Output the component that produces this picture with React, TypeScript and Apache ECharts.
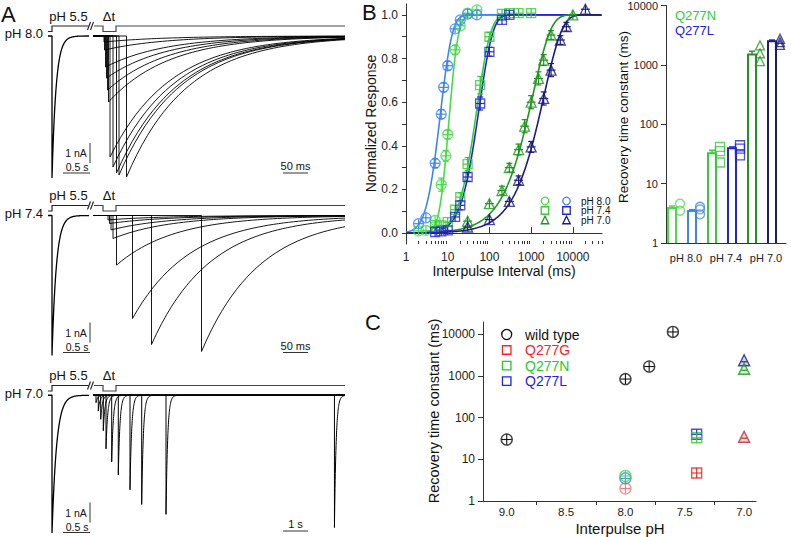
import React, { useEffect, useRef } from "react";
import * as echarts from "echarts";

const FONT = 'Arial, "Liberation Sans", Helvetica, sans-serif';
const lg = Math.log10;

// ---------------- Panel A: current traces (nA, ms) ----------------
const traceRowLabels = ["pH 8.0", "pH 7.4", "pH 7.0"];
const condPeakNA = [7.1, 7.0, 7.0];
const condOnsetMs = [74, 74, 74];
const condDecayMs = [75, 80, 85];
const condWindowMs = 758;
const testWindowMs = [504, 504, 10500];
const testDecayMs = [120, 115, 70];
const testOnsetsMs = [
  [22, 23, 25, 27, 29, 31, 34, 40, 47, 52, 67],
  [30, 33, 36, 40, 47, 79, 117, 217],
  [125, 221, 321, 429, 542, 779, 1054, 1542, 2029, 3042, 10060],
];
const testPeaksNA = [
  [0.3, 0.7, 1.55, 2.1, 2.7, 3.3, 6.05, 6.55, 6.85, 6.95, 7.05],
  [0.22, 0.4, 0.72, 1.15, 2.48, 5.15, 6.45, 6.8],
  [0.375, 0.8, 1.22, 1.8, 2.72, 3.38, 4.05, 4.8, 5.55, 6.05, 6.72],
];
const testScaleLabels = ["50 ms", "50 ms", "1 s"];

// ---------------- Panel B (left): normalized recovery ----------------
const intN80 = [2, 3, 5, 7, 9, 10, 15, 20, 30, 50];
const respN80 = [0.01, 0.012, 0.058, 0.222, 0.354, 0.452, 0.84, 0.95, 1.008, 1.023];
const errN80 = [0.005, 0.005, 0.012, 0.03, 0.025, 0.02, 0.02, 0.015, 0.01, 0.01];
const intL80 = [2, 3, 5, 7, 8, 10, 15, 20, 30, 50];
const respL80 = [0.043, 0.07, 0.32, 0.545, 0.668, 0.767, 0.936, 0.977, 1.004, 1.0];
const errL80 = [0.01, 0.015, 0.02, 0.02, 0.02, 0.02, 0.015, 0.01, 0.01, 0.01];
const intN74 = [5, 7, 10, 15, 20, 30, 60, 100, 200, 300, 500, 1000];
const respN74 = [0.03, 0.035, 0.05, 0.107, 0.165, 0.316, 0.678, 0.9, 1.005, 1.008, 1.008, 1.008];
const errN74 = [0.01, 0.01, 0.01, 0.015, 0.02, 0.03, 0.04, 0.02, 0.01, 0.01, 0.01, 0.01];
const intL74 = [5, 7, 10, 15, 20, 30, 60, 100, 200, 300];
const respL74 = [0.005, 0.008, 0.012, 0.074, 0.127, 0.257, 0.594, 0.831, 0.977, 1.0];
const errL74 = [0.005, 0.005, 0.01, 0.015, 0.02, 0.02, 0.03, 0.02, 0.01, 0.01];
const intN70 = [30, 100, 200, 300, 500, 700, 1000, 1500, 2000, 3000, 10000];
const respN70 = [0.055, 0.135, 0.195, 0.3, 0.383, 0.49, 0.6, 0.709, 0.793, 0.908, 1.0];
const errN70 = [0.01, 0.015, 0.02, 0.02, 0.025, 0.03, 0.03, 0.03, 0.025, 0.02, 0.01];
const intL70 = [30, 100, 300, 500, 1000, 2000, 3000, 5000, 7000, 20000];
const respL70 = [0.028, 0.062, 0.145, 0.242, 0.395, 0.617, 0.747, 0.885, 0.946, 1.026];
const errL70 = [0.005, 0.01, 0.015, 0.02, 0.025, 0.03, 0.03, 0.02, 0.02, 0.01];
// fit parameters: y = (1 - exp(-t/tau))^n
const fitTau = [3.9, 3.4, 32, 36, 1100, 2050];
const fitPow = [10, 4, 2.41, 2.4, 1, 1];
const intervalTickLabels = [1, 10, 100, 1000, 10000];
const intervalMax = 50000;

// ---------------- Panel B (right): recovery time constants ----------------
const phCats = ["pH 8.0", "pH 7.4", "pH 7.0"];
const tauMeanN = [3.9, 32.5, 1500];
const tauErrN = [0.3, 4, 200];
const tauMeanL = [3.45, 39.5, 2500];
const tauErrL = [0.2, 2, 120];
const tauCellsN = [[4.6, 3.5], [41.5, 35.4, 22.7], [2130, 1560, 1160]];
const tauCellsL = [[4.07, 3.68, 3.04], [44.3, 39, 30], [2750, 2420, 2170]];
const tauTickLabels = [1, 10, 100, 1000, 10000];

// ---------------- Panel C: tau vs interpulse pH ----------------
const wtPH = [9.0, 8.0, 7.8, 7.6];
const wtTau = [30, 850, 1700, 11500];
const mutPH = [8.0, 7.4, 7.0];
const gTau = [2.0, 4.7, 35];
const nTau = [4.0, 33, 1500];
const lTau = [3.5, 40, 2400];
const phTickLabels = [7.0, 7.5, 8.0, 8.5, 9.0];
const phMinorTicks = [7.25, 7.75, 8.25, 8.75];

// colours
const greens = ["#44dd44", "#33cc33", "#1e961e"];
const blues = ["#3d85f2", "#2323dc", "#1c1c7c"];
const reds = ["#f07a7a", "#ee2222", "#b52a2a"];
const shapes = ["circle", "rect", "triangle"];

function decayTrace(onset: number, peak: number, tau: number, span: number) {
  const pts: number[][] = [[0, 0], [onset, 0], [onset, -peak]];
  const n = 80;
  for (let k = 1; k <= n; k++) {
    const dt = (k / n) * 7 * tau;
    const t = onset + dt;
    if (t > span) break;
    pts.push([t, -peak * Math.exp(-dt / tau)]);
  }
  pts.push([span, -peak * Math.exp(-(span - onset) / tau)]);
  return pts;
}

function buildOption() {
  const rowBase = [36, 215.5, 395.5];
  const grid: any[] = [];
  const xAxis: any[] = [];
  const yAxis: any[] = [];
  const series: any[] = [];
  const graphic: any[] = [];
  const hidden = (gi: number, min: number, max: number) => ({ type: "value", gridIndex: gi, min, max, show: false });

  for (let r = 0; r < 3; r++) grid.push({ left: 48, top: rowBase[r] - 16, width: 41, height: 160 });
  for (let r = 0; r < 3; r++) grid.push({ left: 93, top: rowBase[r] - 16, width: 252, height: 160 });
  for (let r = 0; r < 3; r++) { xAxis.push(hidden(r, 0, condWindowMs)); yAxis.push(hidden(r, -7.2, 0.8)); }
  for (let r = 0; r < 3; r++) { xAxis.push(hidden(3 + r, 0, testWindowMs[r])); yAxis.push(hidden(3 + r, -7.2, 0.8)); }

  const traceLine = (ai: number, data: number[][], w: number) => ({
    type: "line", xAxisIndex: ai, yAxisIndex: ai, data, showSymbol: false, symbol: "none",
    lineStyle: { color: "#000", width: w }, silent: true, clip: false, z: 2,
  });
  for (let r = 0; r < 3; r++) {
    series.push(traceLine(r, decayTrace(condOnsetMs[r], condPeakNA[r], condDecayMs[r], condWindowMs), 1.3));
    testOnsetsMs[r].forEach((on, k) => {
      series.push(traceLine(3 + r, decayTrace(on, testPeaksNA[r][k], testDecayMs[r], testWindowMs[r]), r === 2 ? 1.0 : 0.9));
    });
  }

  const txt = (text: string, x: number, y: number, size: number, opts: any = {}) => ({
    type: "text", x, y, rotation: opts.rotation || 0, silent: true,
    style: {
      text, fill: opts.color || "#111", font: `${size}px ${FONT}`, fontSize: size, fontFamily: FONT,
      align: opts.align || "center", verticalAlign: opts.valign || "middle",
      textAlign: opts.align || "center", textVerticalAlign: opts.valign || "middle",
    },
  });
  const ln = (x1: number, y1: number, x2: number, y2: number, stroke = "#222", w = 1.1) => ({
    type: "line", silent: true, shape: { x1, y1, x2, y2 }, style: { stroke, lineWidth: w },
  });
  const pl = (points: number[][], stroke = "#222", w = 1.2) => ({
    type: "polyline", silent: true, shape: { points }, style: { stroke, lineWidth: w, fill: "none" },
  });

  // Panel A annotations
  graphic.push(txt("A", 1, 3, 22, { align: "left", valign: "top" }));
  for (let r = 0; r < 3; r++) {
    const yb = rowBase[r];
    graphic.push(txt(traceRowLabels[r], 43, yb - 2.5, 13, { align: "right" }));
    graphic.push(txt("pH 5.5", 68.5, yb - 20, 13));
    graphic.push(txt("\u0394t", 109, yb - 20, 13));
    graphic.push(pl([[48, yb - 4.5], [52, yb - 4.5], [52, yb - 10], [88.5, yb - 10]]));
    graphic.push(pl([[94, yb - 10], [103, yb - 10], [103, yb - 4.5], [116, yb - 4.5], [116, yb - 10], [345, yb - 10]], "#444"));
    graphic.push(ln(87.5, yb - 6, 90.5, yb - 14));
    graphic.push(ln(90.5, yb - 6, 93.5, yb - 14));
    graphic.push(ln(90, yb + 107, 90, yb + 127, "#333", 1));
    graphic.push(ln(63, yb + 137, 90, yb + 137, "#333", 1));
    graphic.push(txt("1 nA", 76, yb + 117, 10.5));
    graphic.push(txt("0.5 s", 77, yb + 131, 10.5));
    const sy = r === 2 ? yb + 135.5 : yb + 137;
    graphic.push(ln(283, sy, 308, sy, "#333", 1));
    graphic.push(txt(testScaleLabels[r], 295.5, sy - 7, 11));
  }

  // ---------- Panel B left ----------
  const axisLineStyle = { lineStyle: { color: "#333", width: 1 } };
  const labelStyle = { color: "#222", fontFamily: FONT, fontSize: 12 };
  grid.push({ left: 406, top: 4, width: 196, height: 240 }); // 6
  const decLogs = intervalTickLabels.map((v) => lg(v));
  const minorLogs: number[] = [];
  for (let k = 0; k < 5; k++) for (let m = 2; m <= 9; m++) { const v = m * Math.pow(10, k); if (v <= intervalMax) minorLogs.push(lg(v)); }
  xAxis.push({
    type: "value", gridIndex: 6, position: "bottom", min: 0, max: lg(intervalMax), axisLine: axisLineStyle, splitLine: { show: false },
    axisTick: { customValues: decLogs, inside: true, length: 6, lineStyle: { color: "#333" } },
    axisLabel: { ...labelStyle, customValues: decLogs, margin: 7, formatter: (v: number) => String(Math.round(Math.pow(10, v))) },
  }); // 6
  xAxis.push({
    type: "value", gridIndex: 6, position: "bottom", offset: 0, min: 0, max: lg(intervalMax), axisLine: { show: false }, splitLine: { show: false },
    axisTick: { customValues: minorLogs, inside: true, length: 3, lineStyle: { color: "#333" } },
    axisLabel: { show: false },
  }); // 7
  const respTicks = [0, 0.1, 0.2, 0.3, 0.4, 0.5, 0.6, 0.7, 0.8, 0.9, 1.0];
  const respLabels = [0, 0.2, 0.4, 0.6, 0.8, 1.0];
  yAxis.push({
    type: "value", gridIndex: 6, min: -0.05, max: 1.05, axisLine: { show: true, ...axisLineStyle }, splitLine: { show: false },
    axisTick: { show: true, customValues: respTicks, length: 4, lineStyle: { color: "#333" } },
    axisLabel: { ...labelStyle, customValues: respLabels, margin: 8, formatter: (v: number) => v.toFixed(1) },
  }); // 6

  const bSets = [
    { xs: intN80, ys: respN80, es: errN80, color: greens[0], sym: "circle" },
    { xs: intL80, ys: respL80, es: errL80, color: blues[0], sym: "circle" },
    { xs: intN74, ys: respN74, es: errN74, color: greens[1], sym: "rect" },
    { xs: intL74, ys: respL74, es: errL74, color: blues[1], sym: "rect" },
    { xs: intN70, ys: respN70, es: errN70, color: greens[2], sym: "triangle" },
    { xs: intL70, ys: respL70, es: errL70, color: blues[2], sym: "triangle" },
  ];
  bSets.forEach((s, k) => {
    const fit: number[][] = [];
    for (let lx = 0; lx <= lg(intervalMax) + 1e-9; lx += 0.01) {
      const t = Math.pow(10, lx);
      fit.push([lx, Math.pow(1 - Math.exp(-t / fitTau[k]), fitPow[k])]);
    }
    series.push({
      type: "line", xAxisIndex: 6, yAxisIndex: 6, data: fit, showSymbol: false, symbol: "none",
      lineStyle: { color: s.color, width: 1.6 }, silent: true, z: 3,
    });
  });
  bSets.forEach((s) => {
    series.push({
      type: "custom", xAxisIndex: 6, yAxisIndex: 6, silent: true, z: 4,
      itemStyle: { color: s.color },
      data: s.xs.map((x, i) => [lg(x), s.ys[i], s.es[i]]),
      renderItem: (params: any, api: any) => {
        const x = api.value(0), y = api.value(1), e = api.value(2);
        const c = api.coord([x, y]);
        const hi = api.coord([x, y + e]);
        const lo = api.coord([x, y - e]);
        const st = { stroke: s.color, lineWidth: 1.2 };
        const kids: any[] = [
          { type: "line", shape: { x1: c[0], y1: Math.min(hi[1], c[1] - 4.5), x2: c[0], y2: Math.max(lo[1], c[1] + 4.5) }, style: st },
          { type: "line", shape: { x1: c[0] - 4.5, y1: c[1], x2: c[0] + 4.5, y2: c[1] }, style: st },
        ];
        if (c[1] - hi[1] > 4) {
          kids.push({ type: "line", shape: { x1: c[0] - 3, y1: hi[1], x2: c[0] + 3, y2: hi[1] }, style: st });
          kids.push({ type: "line", shape: { x1: c[0] - 3, y1: lo[1], x2: c[0] + 3, y2: lo[1] }, style: st });
        }
        return { type: "group", children: kids };
      },
    });
    series.push({
      type: "scatter", xAxisIndex: 6, yAxisIndex: 6, symbol: s.sym, symbolSize: s.sym === "rect" ? 9 : 10, silent: true, z: 5,
      itemStyle: { color: "rgba(0,0,0,0)", borderColor: s.color, borderWidth: 1.3 },
      data: s.xs.map((x, i) => [lg(x), s.ys[i]]),
    });
  });
  graphic.push(txt("B", 362, 1, 22, { align: "left", valign: "top" }));
  graphic.push(txt("Normalized Response", 370.5, 123.5, 14, { rotation: Math.PI / 2 }));
  graphic.push(txt("Interpulse Interval (ms)", 504, 271, 14));
  const legRows = [201, 210.5, 220];
  const symGraphic = (sym: string, cx: number, cy: number, color: string, size: number, fill = "none") => {
    const st = { stroke: color, lineWidth: 1.3, fill };
    if (sym === "circle") return { type: "circle", silent: true, shape: { cx, cy, r: size / 2 }, style: st };
    if (sym === "rect") return { type: "rect", silent: true, shape: { x: cx - size / 2, y: cy - size / 2, width: size, height: size }, style: st };
    return { type: "polygon", silent: true, shape: { points: [[cx, cy - size / 2], [cx + size / 2, cy + size / 2], [cx - size / 2, cy + size / 2]] }, style: st };
  };
  legRows.forEach((y, i) => {
    graphic.push(symGraphic(shapes[i], 545, y, greens[i], 7.5));
    graphic.push(symGraphic(shapes[i], 566.5, y, blues[i], 7.5));
    graphic.push(txt(phCats[i], 581, y, 10, { align: "left" }));
  });

  // ---------- Panel B right ----------
  grid.push({ left: 666, top: 5, width: 120, height: 238 }); // 7
  const tauLogs = tauTickLabels.map((v) => lg(v));
  xAxis.push({
    type: "category", gridIndex: 7, data: phCats, axisLine: axisLineStyle, axisTick: { show: false },
    axisLabel: { ...labelStyle, fontSize: 11, interval: 0, margin: 9, hideOverlap: false },
  }); // 8
  yAxis.push({
    type: "value", gridIndex: 7, min: 0, max: 4, axisLine: { show: true, ...axisLineStyle }, splitLine: { show: false },
    axisTick: { show: true, customValues: tauLogs, length: 5, lineStyle: { color: "#333" } },
    axisLabel: { ...labelStyle, fontSize: 11, customValues: tauLogs, margin: 8, formatter: (v: number) => String(Math.round(Math.pow(10, v))) },
  }); // 7
  const barSeries = (means: number[], errs: number[], colors: string[], off: number) => ({
    type: "custom", xAxisIndex: 8, yAxisIndex: 7, silent: true, z: 3,
    data: means.map((m, i) => [i, lg(m), lg(m + errs[i])]),
    renderItem: (params: any, api: any) => {
      const i = params.dataIndex;
      const idx = api.value(0);
      const top = api.coord([idx, api.value(1)]);
      const base = api.coord([idx, 0]);
      const eTop = api.coord([idx, api.value(2)]);
      const cx = top[0] + off;
      const w = 8;
      const st = { stroke: colors[i], fill: "none", lineWidth: 2 };
      return {
        type: "group", children: [
          { type: "polyline", shape: { points: [[cx - w / 2, base[1]], [cx - w / 2, top[1]], [cx + w / 2, top[1]], [cx + w / 2, base[1]]] }, style: st },
          { type: "line", shape: { x1: cx, y1: top[1], x2: cx, y2: eTop[1] }, style: { stroke: colors[i], lineWidth: 1.4 } },
          { type: "line", shape: { x1: cx - 3, y1: eTop[1], x2: cx + 3, y2: eTop[1] }, style: { stroke: colors[i], lineWidth: 1.4 } },
        ],
      };
    },
  });
  series.push(barSeries(tauMeanN, tauErrN, greens, -14));
  series.push(barSeries(tauMeanL, tauErrL, blues, 6));
  const cellSeries = (cells: number[][], colors: string[], off: number) => {
    const data: any[] = [];
    cells.forEach((arr, i) => arr.forEach((v) => data.push({
      value: [i, lg(v)], symbol: shapes[i], itemStyle: { borderColor: colors[i] },
    })));
    return {
      type: "scatter", xAxisIndex: 8, yAxisIndex: 7, symbolSize: 9, symbolOffset: [off, 0], silent: true, z: 4,
      itemStyle: { color: "rgba(0,0,0,0)", borderWidth: 1.3 }, data,
    };
  };
  series.push(cellSeries(tauCellsN, greens, -6));
  series.push(cellSeries(tauCellsL, blues, 14));
  graphic.push(txt("Recovery time constant (ms)", 623, 117, 13.5, { rotation: Math.PI / 2 }));
  graphic.push(txt("Q277N", 675, 15, 13, { align: "left", color: greens[1] }));
  graphic.push(txt("Q277L", 675, 30, 13, { align: "left", color: blues[1] }));

  // ---------- Panel C ----------
  grid.push({ left: 483, top: 322, width: 273, height: 179 }); // 8
  xAxis.push({
    type: "value", gridIndex: 8, inverse: true, min: 6.9, max: 9.2, axisLine: axisLineStyle, splitLine: { show: false },
    axisTick: { customValues: phMinorTicks, length: 4, lineStyle: { color: "#333" } },
    axisLabel: { ...labelStyle, fontSize: 11.5, customValues: phTickLabels, margin: 5, formatter: (v: number) => v.toFixed(1) },
  }); // 9
  yAxis.push({
    type: "value", gridIndex: 8, min: 0, max: 4.3, axisLine: { show: true, ...axisLineStyle }, splitLine: { show: false },
    axisTick: { show: true, customValues: tauLogs, length: 5, lineStyle: { color: "#333" } },
    axisLabel: { ...labelStyle, fontSize: 12, customValues: tauLogs, margin: 8, formatter: (v: number) => String(Math.round(Math.pow(10, v))) },
  }); // 8
  const cGroups = [
    { phs: wtPH, taus: wtTau, colors: wtPH.map(() => "#111"), syms: wtPH.map(() => "circle") },
    { phs: mutPH, taus: gTau, colors: reds, syms: shapes },
    { phs: mutPH, taus: lTau, colors: blues, syms: shapes },
    { phs: mutPH, taus: nTau, colors: greens, syms: shapes },
  ];
  const hexA = (hex: string, a: number) => {
    const n = parseInt(hex.slice(1), 16);
    return `rgba(${(n >> 16) & 255},${(n >> 8) & 255},${n & 255},${a})`;
  };
  cGroups.forEach((g) => {
    series.push({
      type: "scatter", xAxisIndex: 9, yAxisIndex: 8, symbolSize: 11, silent: true, z: 4,
      data: g.phs.map((p, i) => ({
        value: [p, lg(g.taus[i])], symbol: g.syms[i],
        symbolSize: g.syms[i] === "rect" ? 10 : 11,
        itemStyle: { color: g.syms[i] === "triangle" ? hexA(g.colors[i], 0.25) : "rgba(0,0,0,0)", borderColor: g.colors[i], borderWidth: 1.4 },
      })),
    });
    series.push({
      type: "custom", xAxisIndex: 9, yAxisIndex: 8, silent: true, z: 5,
      data: g.phs.map((p, i) => [p, lg(g.taus[i])]),
      renderItem: (params: any, api: any) => {
        const i = params.dataIndex;
        const c = api.coord([api.value(0), api.value(1)]);
        const st = { stroke: g.colors[i], lineWidth: 1.1 };
        const tri = g.syms[i] === "triangle";
        const h = tri ? 2.8 : 5;
        const kids: any[] = [{ type: "line", shape: { x1: c[0] - h, y1: c[1] + (tri ? 1.5 : 0), x2: c[0] + h, y2: c[1] + (tri ? 1.5 : 0) }, style: st }];
        if (!tri) kids.push({ type: "line", shape: { x1: c[0], y1: c[1] - 5, x2: c[0], y2: c[1] + 5 }, style: st });
        return { type: "group", children: kids };
      },
    });
  });
  graphic.push(txt("C", 365, 311, 22, { align: "left", valign: "top" }));
  graphic.push(txt("Recovery time constant (ms)", 434, 411, 14.5, { rotation: Math.PI / 2 }));
  graphic.push(txt("Interpulse pH", 620, 528, 15));
  const cLeg = [
    { label: "wild type", color: "#111", sym: "circle" },
    { label: "Q277G", color: "#ff2020", sym: "rect" },
    { label: "Q277N", color: "#22cc22", sym: "rect" },
    { label: "Q277L", color: "#2222ee", sym: "rect" },
  ];
  const cLegY = [334.5, 350, 365.7, 381.2];
  cLeg.forEach((l, i) => {
    graphic.push(symGraphic(l.sym, 506.7, cLegY[i], l.color, l.sym === "circle" ? 10 : 8.5));
    graphic.push(txt(l.label, 525, cLegY[i], 14, { align: "left", color: l.color }));
  });

  return {
    animation: false,
    backgroundColor: "#ffffff",
    textStyle: { fontFamily: FONT },
    grid, xAxis, yAxis, series, graphic,
  };
}

export default function App() {
  const ref = useRef<HTMLDivElement>(null);
  useEffect(() => {
    if (!ref.current) return;
    const chart = echarts.init(ref.current, null, { renderer: "svg" });
    chart.setOption(buildOption() as any);
    return () => chart.dispose();
  }, []);
  return (
    <div
      ref={ref}
      style={{ position: "fixed", left: 0, top: 0, width: 791, height: 537, background: "#fff" }}
    />
  );
}
